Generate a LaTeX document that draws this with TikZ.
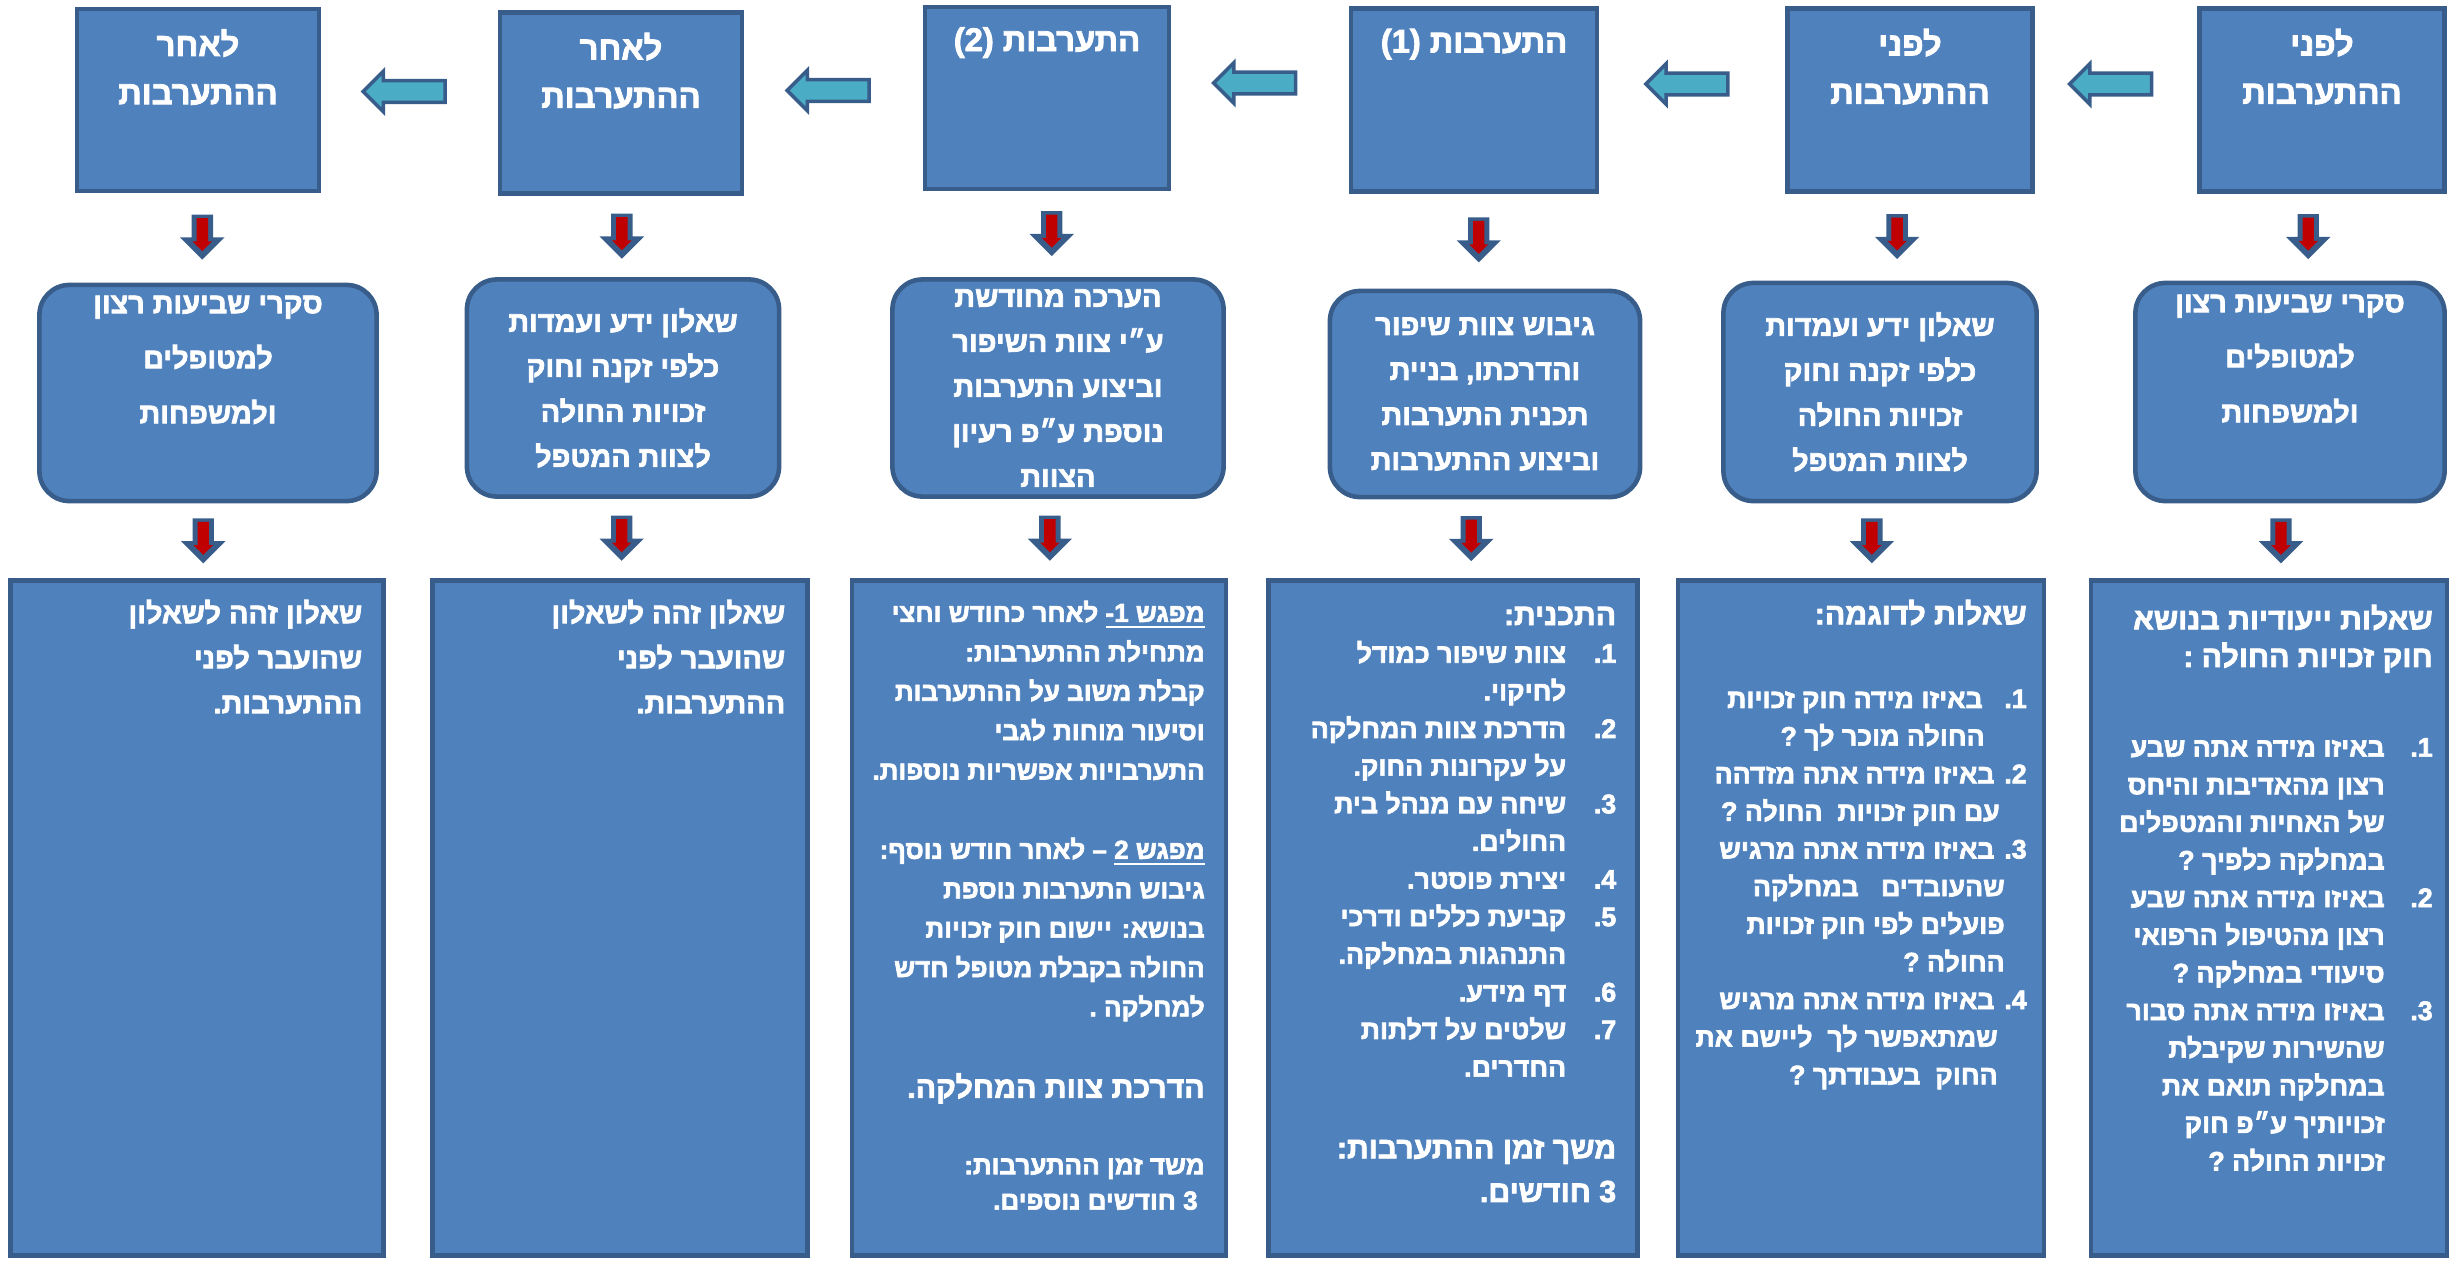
\documentclass[tikz,border=0pt]{standalone}
\usepackage{fontspec}
\usepackage{tikz}
\usetikzlibrary{shapes.arrows}

\newfontfamily\hebfont[Script=Hebrew,FakeBold=2.5]{Liberation Sans Bold}
\TeXXeTstate=1

\definecolor{boxblue}{HTML}{4F81BD}
\definecolor{boxline}{HTML}{385D8A}
\definecolor{arrowcyan}{HTML}{4BACC6}
\definecolor{arrowred}{HTML}{C00000}

\newcommand{\rl}[1]{\beginR #1\endR}
\newcommand{\itemno}[2]{\hbox to #1{\beginR #2\hfil\endR}}
\newcommand{\indr}[1]{\hspace*{#1}}
\newcommand{\bighead}{\fontsize{8.6}{12}\selectfont}

\begin{document}
\begin{tikzpicture}[x=0.01cm,y=-0.01cm,
    stage/.style={draw=boxline,fill=boxblue,line width=1.3pt,inner sep=0pt},
    result/.style={stage,rounded corners=0.3cm,text=white,align=center,
      font=\hebfont\fontsize{8.2}{12.8}\selectfont},
    toptext/.style={text=white,align=center,inner sep=0pt,anchor=north,
      font=\hebfont\fontsize{9.3}{13.7}\selectfont},
    listtext/.style={text=white,align=right,inner sep=0pt,anchor=north east,
      font=\hebfont\fontsize{7.6}{10.7}\selectfont},
    sametext/.style={listtext,font=\hebfont\fontsize{8.2}{12.8}\selectfont},
    sidearrow/.style={single arrow,shape border rotate=180,draw=boxline,
      fill=arrowcyan,line width=1pt,inner sep=0.09cm,minimum height=0.82cm,
      minimum width=1pt,single arrow head extend=0.095cm},
    downarrow/.style={single arrow,shape border rotate=270,fill=boxline,
      inner sep=0.1cm,minimum height=0.45cm,minimum width=1pt,
      single arrow head extend=0.115cm,pos=0.43},
    downred/.style={single arrow,shape border rotate=270,fill=arrowred,
      inner sep=0.05cm,minimum height=0.33cm,minimum width=1pt,
      single arrow head extend=0.04cm,pos=0.43}
  ]
      \useasboundingbox (0,0) rectangle (2451,1263);

      \coordinate (T1) at (2322,100);
      \coordinate (T2) at (1910,100);
      \coordinate (T3) at (1474,100);
      \coordinate (T4) at (1047,98);
      \coordinate (T5) at (621,103);
      \coordinate (T6) at (198,100);
      \coordinate (M1) at (2290,392);
      \coordinate (M2) at (1880,392);
      \coordinate (M3) at (1485,394);
      \coordinate (M4) at (1058,388);
      \coordinate (M5) at (623,388);
      \coordinate (M6) at (208,393);
      \coordinate (B1) at (2269,918);
      \coordinate (B2) at (1861,918);
      \coordinate (B3) at (1453,918);
      \coordinate (B4) at (1039,918);
      \coordinate (B5) at (620,918);
      \coordinate (B6) at (197,918);

      % stages
      \node[stage,minimum width=2.45cm,minimum height=1.83cm] (t1) at (T1) {};
      \node[stage,minimum width=2.45cm,minimum height=1.83cm] (t2) at (T2) {};
      \node[stage,minimum width=2.46cm,minimum height=1.83cm] (t3) at (T3) {};
      \node[stage,minimum width=2.44cm,minimum height=1.82cm] (t4) at (T4) {};
      \node[stage,minimum width=2.42cm,minimum height=1.81cm] (t5) at (T5) {};
      \node[stage,minimum width=2.42cm,minimum height=1.82cm] (t6) at (T6) {};

      \node[toptext] (t1txt) at ([yshift=-0.22cm]t1.north) {\rl{לפני}\\ \rl{ההתערבות}};
      \node[toptext] (t2txt) at ([yshift=-0.22cm]t2.north) {\rl{לפני}\\ \rl{ההתערבות}};
      \node[toptext] (t3txt) at ([yshift=-0.22cm]t3.north) {\rl{התערבות \beginL(1)\endL{}}};
      \node[toptext] (t4txt) at ([yshift=-0.22cm]t4.north) {\rl{התערבות \beginL(2)\endL{}}};
      \node[toptext] (t5txt) at ([yshift=-0.22cm]t5.north) {\rl{לאחר}\\ \rl{ההתערבות}};
      \node[toptext] (t6txt) at ([yshift=-0.22cm]t6.north) {\rl{לאחר}\\ \rl{ההתערבות}};

      % tools
      \node[result,minimum width=3.09cm,minimum height=2.18cm] (m1) at (M1)
        {\rl{סקרי שביעות רצון}\\[0.1cm] \rl{למטופלים}\\[0.1cm] \rl{ולמשפחות}\\[0.22cm]\mbox{}};
      \node[result,minimum width=3.13cm,minimum height=2.18cm] (m2) at (M2)
        {\rl{שאלון ידע ועמדות}\\ \rl{כלפי זקנה וחוק}\\ \rl{זכויות החולה}\\ \rl{לצוות המטפל}};
      \node[result,minimum width=3.10cm,minimum height=2.06cm] (m3) at (M3)
        {\rl{גיבוש צוות שיפור}\\ \rl{והדרכתו, בניית}\\ \rl{תכנית התערבות}\\ \rl{וביצוע ההתערבות}};
      \node[result,minimum width=3.31cm,minimum height=2.17cm] (m4) at (M4)
        {\rl{הערכה מחודשת}\\ \rl{ע״י צוות השיפור}\\ \rl{וביצוע התערבות}\\ \rl{נוספת ע״פ רעיון}\\ \rl{הצוות}};
      \node[result,minimum width=3.12cm,minimum height=2.17cm] (m5) at (M5)
        {\rl{שאלון ידע ועמדות}\\ \rl{כלפי זקנה וחוק}\\ \rl{זכויות החולה}\\ \rl{לצוות המטפל}};
      \node[result,minimum width=3.37cm,minimum height=2.16cm] (m6) at (M6)
        {\rl{סקרי שביעות רצון}\\[0.1cm] \rl{למטופלים}\\[0.1cm] \rl{ולמשפחות}\\[0.22cm]\mbox{}};

      % details
      \node[stage,minimum width=3.56cm,minimum height=6.75cm] (b1) at (B1) {};
      \node[stage,minimum width=3.66cm,minimum height=6.75cm] (b2) at (B2) {};
      \node[stage,minimum width=3.69cm,minimum height=6.75cm] (b3) at (B3) {};
      \node[stage,minimum width=3.74cm,minimum height=6.75cm] (b4) at (B4) {};
      \node[stage,minimum width=3.75cm,minimum height=6.75cm] (b5) at (B5) {};
      \node[stage,minimum width=3.73cm,minimum height=6.75cm] (b6) at (B6) {};

      \node[listtext] (b1txt) at ([xshift=-0.16cm,yshift=-0.26cm]b1.north east) {%
        {\bighead\rl{שאלות ייעודיות בנושא}}\\
        {\bighead\rl{חוק זכויות החולה :}}\\[0.52cm]
        \rl{\itemno{0.48cm}{1.}באיזו מידה אתה שבע}\\
        \rl{\indr{0.48cm}רצון מהאדיבות והיחס}\\
        \rl{\indr{0.48cm}של האחיות והמטפלים}\\
        \rl{\indr{0.48cm}במחלקה כלפיך ?}\\
        \rl{\itemno{0.48cm}{2.}באיזו מידה אתה שבע}\\
        \rl{\indr{0.48cm}רצון מהטיפול הרפואי}\\
        \rl{\indr{0.48cm}סיעודי במחלקה ?}\\
        \rl{\itemno{0.48cm}{3.}באיזו מידה אתה סבור}\\
        \rl{\indr{0.48cm}שהשירות שקיבלת}\\
        \rl{\indr{0.48cm}במחלקה תואם את}\\
        \rl{\indr{0.48cm}זכויותיך ע״פ חוק}\\
        \rl{\indr{0.48cm}זכויות החולה ?}};

      \node[listtext] (b2txt) at ([xshift=-0.19cm,yshift=-0.21cm]b2.north east) {%
        {\bighead\rl{שאלות לדוגמה:}}\\[0.46cm]
        \rl{\itemno{0.44cm}{1.}באיזו מידה חוק זכויות}\\
        \rl{\indr{0.42cm}החולה מוכר לך ?}\\
        \rl{2. באיזו מידה אתה מזדהה}\\
        \rl{\indr{0.27cm}עם חוק זכויות \ החולה ?}\\
        \rl{3. באיזו מידה אתה מרגיש}\\
        \rl{\indr{0.22cm}שהעובדים \ \ במחלקה}\\
        \rl{\indr{0.22cm}פועלים לפי חוק זכויות}\\
        \rl{\indr{0.22cm}החולה ?}\\
        \rl{4. באיזו מידה אתה מרגיש}\\
        \rl{\indr{0.29cm}שמתאפשר לך \ ליישם את}\\
        \rl{\indr{0.29cm}החוק \ בעבודתך ?}};

      \node[listtext] (b3txt) at ([xshift=-0.23cm,yshift=-0.28cm]b3.north east) {%
        {\bighead\rl{התכנית:}}\\
        \rl{\itemno{0.5cm}{1.}צוות שיפור כמודל}\\
        \rl{\indr{0.5cm}לחיקוי.}\\
        \rl{\itemno{0.5cm}{2.}הדרכת צוות המחלקה}\\
        \rl{\indr{0.5cm}על עקרונות החוק.}\\
        \rl{\itemno{0.5cm}{3.}שיחה עם מנהל בית}\\
        \rl{\indr{0.5cm}החולים.}\\
        \rl{\itemno{0.5cm}{4.}יצירת פוסטר.}\\
        \rl{\itemno{0.5cm}{5.}קביעת כללים ודרכי}\\
        \rl{\indr{0.5cm}התנהגות במחלקה.}\\
        \rl{\itemno{0.5cm}{6.}דף מידע.}\\
        \rl{\itemno{0.5cm}{7.}שלטים על דלתות}\\
        \rl{\indr{0.5cm}החדרים.}\\[0.44cm]
        {\bighead\rl{משך זמן ההתערבות:}}\\[0.06cm]
        {\bighead\rl{3 חודשים.}}};

      \node[listtext,font=\hebfont\fontsize{7.4}{11.2}\selectfont] (b4txt)
        at ([xshift=-0.23cm,yshift=-0.22cm]b4.north east) {%
        \rl{\underline{\rl{מפגש 1-}} לאחר כחודש וחצי}\\
        \rl{מתחילת ההתערבות:}\\
        \rl{קבלת משוב על ההתערבות}\\
        \rl{וסיעור מוחות לגבי}\\
        \rl{התערבויות אפשריות נוספות.}\\[0.4cm]
        \rl{\underline{\rl{מפגש 2}} – לאחר חודש נוסף:}\\
        \rl{גיבוש התערבות נוספת}\\
        \rl{בנושא: יישום חוק זכויות}\\
        \rl{החולה בקבלת מטופל חדש}\\
        \rl{למחלקה .}\\[0.42cm]
        {\bighead\rl{הדרכת צוות המחלקה.}}\\[0.37cm]
        \rl{משד זמן ההתערבות:}\\[-0.04cm]
        \rl{\indr{0.07cm}3 חודשים נוספים.}};

      \node[sametext] (b5txt) at ([xshift=-0.24cm,yshift=-0.21cm]b5.north east)
        {\rl{שאלון זהה לשאלון}\\ \rl{שהועבר לפני}\\ \rl{ההתערבות.}};
      \node[sametext] (b6txt) at ([xshift=-0.23cm,yshift=-0.21cm]b6.north east)
        {\rl{שאלון זהה לשאלון}\\ \rl{שהועבר לפני}\\ \rl{ההתערבות.}};

      % arrows between stages
      \path ([yshift=0.16cm]t1.west) -- node[sidearrow] {} ([yshift=0.16cm]t2.east);
      \path ([yshift=0.16cm]t2.west) -- node[sidearrow] {} ([yshift=0.16cm]t3.east);
      \path ([yshift=0.16cm]t3.west) -- node[sidearrow] {} ([yshift=0.16cm]t4.east);
      \path ([yshift=0.1cm]t4.west) -- node[sidearrow] {} ([yshift=0.1cm]t5.east);
      \path ([yshift=0.1cm]t5.west) -- node[sidearrow] {} ([yshift=0.1cm]t6.east);

      % arrows down each column
      \path (t1.south) -- node[downarrow] {} node[downred] {} (m1.north);
      \path (t2.south) -- node[downarrow] {} node[downred] {} (m2.north);
      \path (t3.south) -- node[downarrow] {} node[downred] {} (m3.north);
      \path (t4.south) -- node[downarrow] {} node[downred] {} (m4.north);
      \path (t5.south) -- node[downarrow] {} node[downred] {} (m5.north);
      \path (t6.south) -- node[downarrow] {} node[downred] {} (m6.north);
      \path (m1.south) -- node[downarrow] {} node[downred] {} (b1.north);
      \path (m2.south) -- node[downarrow] {} node[downred] {} (b2.north);
      \path (m3.south) -- node[downarrow] {} node[downred] {} (b3.north);
      \path (m4.south) -- node[downarrow] {} node[downred] {} (b4.north);
      \path (m5.south) -- node[downarrow] {} node[downred] {} (b5.north);
      \path (m6.south) -- node[downarrow] {} node[downred] {} (b6.north);
\end{tikzpicture}
\end{document}
